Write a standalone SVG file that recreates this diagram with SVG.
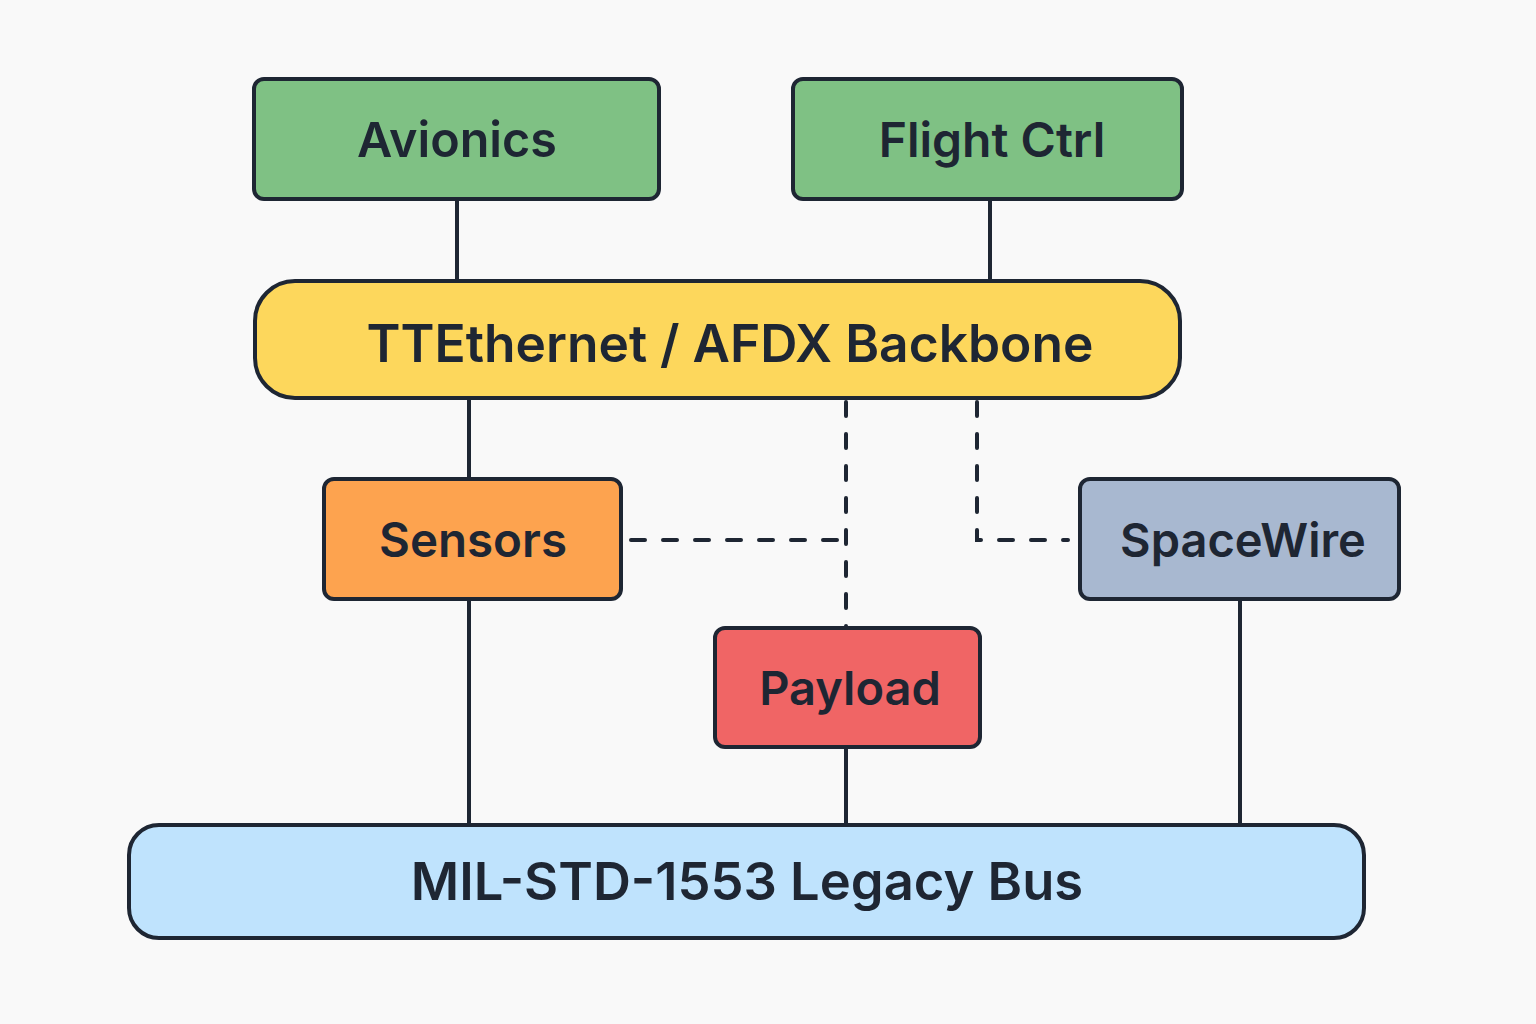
<svg xmlns="http://www.w3.org/2000/svg" width="1536" height="1024" viewBox="0 0 1536 1024">
<style>
.box{stroke:#1e2633;stroke-width:4}
.lbl{font-family:Inter,"Noto Sans","DejaVu Sans",sans-serif;font-weight:600;fill:#1e2633;text-anchor:middle;dominant-baseline:central}
.ln{stroke:#1e2633;stroke-width:4;fill:none}
.dash{stroke:#1e2633;stroke-width:4;fill:none;stroke-dasharray:14 18;stroke-linecap:round}
</style>
<rect width="1536" height="1024" fill="#f9f9f9"/>
<g id="connectors">
<line class="ln" x1="457" y1="199" x2="457" y2="281"/>
<line class="ln" x1="990" y1="199" x2="990" y2="281"/>
<line class="ln" x1="469" y1="398" x2="469" y2="480"/>
<line class="ln" x1="469" y1="599" x2="469" y2="825"/>
<line class="ln" x1="846" y1="747" x2="846" y2="825"/>
<line class="ln" x1="1240" y1="599" x2="1240" y2="825"/>
<path class="dash" d="M846 402 V628"/>
<path class="dash" d="M631 540 H838"/>
<path class="dash" d="M977 402 V540 H1068"/>
</g>
<g id="avionics">
<rect class="box" x="254" y="79" width="405" height="120" rx="10" fill="#7fc184"/>
<text class="lbl" x="457" y="139" font-size="48.5">Avionics</text>
</g>
<g id="flightctrl">
<rect class="box" x="793" y="79" width="389" height="120" rx="10" fill="#7fc184"/>
<text class="lbl" x="992" y="139" font-size="48">Flight Ctrl</text>
</g>
<g id="backbone">
<rect class="box" x="255" y="281" width="925" height="117" rx="40" fill="#fdd75c"/>
<text class="lbl" x="730" y="343" font-size="51.5">TTEthernet / AFDX Backbone</text>
</g>
<g id="sensors">
<rect class="box" x="324" y="479" width="297" height="120" rx="10" fill="#fda34f"/>
<text class="lbl" x="473" y="539" font-size="47.5">Sensors</text>
</g>
<g id="spacewire">
<rect class="box" x="1080" y="479" width="319" height="120" rx="10" fill="#a8b8d0"/>
<text class="lbl" x="1243" y="539" font-size="47">SpaceWire</text>
</g>
<g id="payload">
<rect class="box" x="715" y="628" width="265" height="119" rx="10" fill="#f06565"/>
<text class="lbl" x="850" y="687" font-size="47">Payload</text>
</g>
<g id="milbus">
<rect class="box" x="129" y="825" width="1235" height="113" rx="30" fill="#bfe3fd"/>
<text class="lbl" x="747" y="881" font-size="52.5">MIL-STD-1553 Legacy Bus</text>
</g>
</svg>
